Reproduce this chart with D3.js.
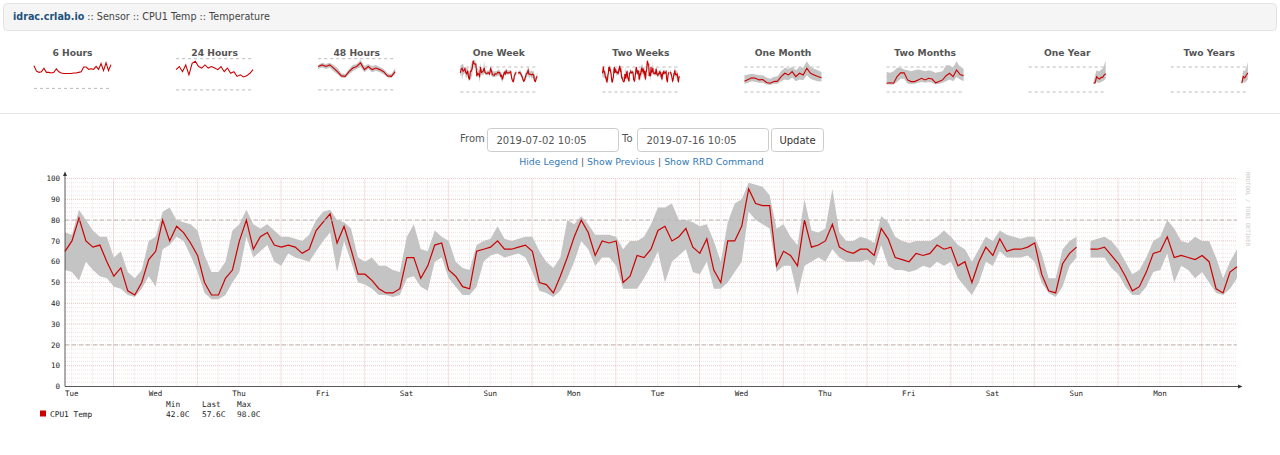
<!DOCTYPE html>
<html>
<head>
<meta charset="utf-8">
<title>idrac.crlab.io :: Sensor :: CPU1 Temp :: Temperature</title>
<script src="https://cdn.jsdelivr.net/npm/d3@7"></script>
<style>
  body { margin: 0; background: #fff; }
  svg text { font-family: "DejaVu Sans", Verdana, sans-serif; }
  svg text.mono { font-family: "DejaVu Sans Mono", monospace; }
</style>
</head>
<body>
<svg id="page" width="1280" height="455"></svg>
<script>
// breadcrumb + form text
const hostName = 'idrac.crlab.io';
const crumbs = ['Sensor', 'CPU1 Temp', 'Temperature'];
const fromText = '2019-07-02 10:05';
const toText = '2019-07-16 10:05';
const links = ['Hide Legend', 'Show Previous', 'Show RRD Command'];

// main graph: CPU1 Temp, one sample every 2 hours from 2019-07-02 10:05
const tempAvg = [65, 70, 81, 70, 67, 68, 60, 53, 57, 46, 44, 50, 61, 65, 80, 70, 77, 74, 69, 63,
  50, 44, 44, 52, 56, 70, 80, 66, 72, 74, 68, 67, 68, 67, 64, 66, 75, 79, 83, 69,
  77, 66, 54, 54, 51, 47, 45, 45, 47, 62, 62, 52, 58, 68, 69, 56, 53, 48, 47, 65,
  66, 67, 70, 66, 66, 67, 68, 65, 50, 49, 45, 53, 62, 72, 80, 74, 63, 70, 69, 70,
  50, 53, 63, 62, 66, 75, 77, 70, 72, 76, 67, 64, 71, 56, 50, 70, 70, 77, 95, 88,
  87, 87, 58, 65, 63, 58, 80, 67, 68, 70, 78, 67, 65, 64, 66, 66, 63, 76, 71, 62,
  61, 60, 64, 63, 64, 68, 66, 67, 58, 60, 50, 60, 67, 63, 71, 65, 66, 66, 67, 69,
  54, 46, 45, 59, 64, 67, null, 66, 66, 67, 63, 59, 53, 46, 48, 55, 64, 65, 72, 62,
  63, 62, 61, 63, 60, 47, 45, 55, 57.6];
const tempMax = [74, 73, 85, 80, 75, 72, 72, 62, 65, 55, 52, 56, 70, 72, 84, 86, 80, 79, 78, 75,
  63, 55, 55, 60, 75, 78, 85, 78, 76, 78, 75, 72, 72, 71, 70, 73, 80, 84, 85, 80,
  79, 76, 62, 60, 62, 58, 58, 56, 55, 72, 78, 66, 65, 75, 72, 70, 60, 57, 56, 68,
  70, 71, 77, 71, 70, 71, 72, 72, 65, 60, 57, 62, 80, 78, 82, 78, 73, 73, 73, 72,
  66, 70, 70, 72, 78, 86, 86, 88, 80, 80, 79, 77, 78, 70, 60, 79, 88, 90, 98, 97,
  96, 92, 76, 78, 72, 68, 90, 75, 74, 76, 95, 74, 70, 70, 72, 71, 69, 82, 79, 72,
  70, 69, 70, 70, 70, 72, 75, 72, 68, 66, 60, 66, 72, 70, 75, 73, 72, 71, 72, 72,
  64, 52, 52, 66, 70, 72, null, 70, 71, 72, 70, 66, 60, 54, 56, 62, 70, 72, 80, 76,
  70, 69, 72, 70, 70, 62, 52, 60, 66];
const tempMin = [56, 55, 51, 60, 56, 53, 52, 48, 47, 44, 43, 47, 53, 48, 66, 68, 72, 70, 63, 55,
  45, 42, 42, 44, 50, 55, 72, 62, 65, 68, 60, 58, 64, 62, 61, 60, 65, 70, 74, 55,
  70, 60, 50, 49, 47, 44, 44, 43, 44, 52, 53, 48, 46, 60, 62, 52, 48, 44, 44, 48,
  60, 63, 64, 62, 63, 64, 62, 55, 46, 45, 43, 46, 52, 60, 70, 66, 58, 62, 62, 58,
  47, 47, 47, 52, 58, 65, 50, 60, 63, 66, 55, 54, 60, 47, 47, 50, 55, 60, 84, 80,
  78, 76, 55, 58, 58, 44, 58, 60, 62, 60, 66, 62, 60, 60, 60, 61, 58, 68, 58, 56,
  56, 55, 56, 58, 57, 60, 58, 60, 52, 48, 44, 50, 60, 58, 65, 62, 62, 62, 63, 60,
  50, 45, 43, 48, 58, 62, null, 62, 62, 62, 57, 54, 48, 44, 44, 48, 55, 56, 64, 50,
  58, 56, 52, 55, 50, 45, 44, 47, 52];
const legendHeads = ['Min', 'Last', 'Max'];
const legendVals = ['42.0C', '57.6C', '98.0C'];

// thumbnail graphs
const sixHourAvg = [58, 49, 47, 48, 54, 47, 47, 46, 47, 53, 48, 46, 45, 45, 45, 45, 46, 46, 47, 48,
  56, 56, 52, 53, 52, 57, 52, 62, 50, 63, 50, 60];
const dayAvg = [59, 65, 55, 68, 49, 71, 75, 65, 62, 68, 62, 65, 62, 59, 65, 55, 62, 52, 55, 46, 49, 45, 47, 52, 59];
const twoDayAvg = [65, 68, 65, 68, 62, 55, 47, 46, 55, 62, 65, 72, 59, 65, 59, 62, 59, 55, 47, 46, 55];
const twoDayMax = [68, 72, 70, 72, 68, 62, 52, 50, 60, 68, 70, 78, 66, 70, 66, 68, 64, 60, 52, 50, 62];
const twoDayMin = [60, 63, 60, 63, 56, 50, 44, 43, 50, 56, 60, 64, 54, 60, 54, 57, 54, 50, 44, 43, 50];
const monthAvg = [46, 50, 54, 53, 49, 50, 43, 41, 45, 46, 57, 65, 61, 69, 57, 65, 61, 77, 65, 61, 57, 54];
const monthMax = [60, 62, 64, 62, 60, 60, 55, 52, 56, 58, 70, 78, 76, 80, 72, 80, 78, 94, 80, 76, 72, 68];
const monthMin = [40, 42, 46, 44, 42, 42, 38, 37, 40, 40, 46, 50, 48, 55, 46, 50, 48, 60, 52, 48, 46, 45];
const twoMonthAvg = [41, 42, 41, 57, 66, 66, 49, 45, 45, 49, 53, 49, 53, 51, 42, 45, 49, 59, 65, 57, 73, 62, 59];
const twoMonthMax = [68, 66, 70, 78, 78, 74, 72, 70, 72, 74, 72, 70, 72, 70, 66, 68, 70, 84, 84, 78, 94, 80, 76];
const twoMonthMin = [38, 38, 38, 44, 52, 52, 40, 39, 40, 42, 44, 42, 44, 42, 38, 40, 42, 46, 50, 46, 56, 50, 46];
const yearAvg = [41, 42, 57, 53, 51, 55, 55, 61, 64];
const yearMax = [46, 60, 72, 70, 70, 74, 76, 84, 96];
const yearMin = [40, 40, 44, 42, 42, 44, 46, 48, 52];
const twoYearAvg = [41, 57, 54, 60, 66];
const twoYearMax = [48, 72, 70, 78, 92];
const twoYearMin = [40, 44, 42, 46, 50];

const red = '#cc0000', band = '#c4c4c4';
const svg = d3.select('#page');

// ---- header bar
svg.append('rect').attr('x', 3.5).attr('y', 3.5).attr('width', 1273).attr('height', 27)
  .attr('rx', 4).attr('fill', '#f5f5f5').attr('stroke', '#e3e3e3');
const crumb = svg.append('text').attr('x', 13).attr('y', 20).attr('font-size', 9.6).attr('fill', '#444');
crumb.append('tspan').attr('font-weight', 'bold').attr('fill', '#23527c').text(hostName);
crumb.append('tspan').text(' :: ' + crumbs.join(' :: '));

// ---- thumbnails
const thumbs = [
  { title: '6 Hours', avg: sixHourAvg, top: 70 },
  { title: '24 Hours', avg: dayAvg, top: 80 },
  { title: '48 Hours', avg: twoDayAvg, min: twoDayMin, max: twoDayMax, top: 80 },
  { title: 'One Week', avg: tempAvg.slice(84), min: tempMin.slice(84), max: tempMax.slice(84), top: 100 },
  { title: 'Two Weeks', avg: tempAvg, min: tempMin, max: tempMax, top: 100 },
  { title: 'One Month', avg: monthAvg, min: monthMin, max: monthMax, top: 100 },
  { title: 'Two Months', avg: twoMonthAvg, min: twoMonthMin, max: twoMonthMax, top: 100 },
  { title: 'One Year', avg: yearAvg, min: yearMin, max: yearMax, top: 100, slots: 52 },
  { title: 'Two Years', avg: twoYearAvg, min: twoYearMin, max: twoYearMax, top: 100, slots: 52 }
];

thumbs.forEach((t, k) => {
  const cx = 72.5 + k * 142.1;
  const left = cx - 38.5, right = cx + 38.5;
  const n = t.slots || t.avg.length;
  const off = n - t.avg.length;
  const tx = d3.scaleLinear().domain([0, n - 1]).range([left, right]);
  const ty = d3.scaleLinear().domain([0, t.top]).range([100.3, 58.7]);
  const g = svg.append('g');

  g.append('text').attr('x', cx).attr('y', 55.5).attr('text-anchor', 'middle')
    .attr('font-size', 9.2).attr('font-weight', 'bold').attr('fill', '#555').text(t.title);

  [80, 20].filter(v => v <= t.top).forEach(v => {
    g.append('line').attr('x1', left).attr('x2', right).attr('y1', ty(v)).attr('y2', ty(v))
      .attr('stroke', '#aaa').attr('stroke-width', 0.8).attr('stroke-dasharray', '3,3');
  });

  const rows = t.avg.map((d, i) => ({ i: i + off, avg: d, min: t.min ? t.min[i] : d, max: t.max ? t.max[i] : d }));
  if (t.min) {
    g.append('path').datum(rows)
      .attr('d', d3.area().defined(d => d.avg != null).x(d => tx(d.i)).y0(d => ty(d.min)).y1(d => ty(d.max)))
      .attr('fill', band);
  }
  g.append('path').datum(rows)
    .attr('d', d3.line().defined(d => d.avg != null).x(d => tx(d.i)).y(d => ty(d.avg)))
    .attr('fill', 'none').attr('stroke', red).attr('stroke-width', 1.1);
});

svg.append('line').attr('x1', 0).attr('x2', 1280).attr('y1', 113.5).attr('y2', 113.5).attr('stroke', '#e5e5e5');

// ---- date form
const form = svg.append('g').attr('font-size', 10).attr('fill', '#555');
form.append('text').attr('x', 460).attr('y', 142).attr('fill', '#555').text('From');
form.append('text').attr('x', 622).attr('y', 142).attr('fill', '#555').text('To');
[[487.5, fromText], [637.5, toText]].forEach(([bx, label]) => {
  form.append('rect').attr('x', bx).attr('y', 128.5).attr('width', 131).attr('height', 23).attr('rx', 3)
    .attr('fill', '#fff').attr('stroke', '#ccc');
  form.append('text').attr('x', bx + 9).attr('y', 143.5).attr('fill', '#555').text(label);
});
form.append('rect').attr('x', 771.5).attr('y', 128.5).attr('width', 52).attr('height', 23).attr('rx', 3)
  .attr('fill', '#fff').attr('stroke', '#ccc');
form.append('text').attr('x', 797.5).attr('y', 143.5).attr('text-anchor', 'middle').attr('fill', '#333').text('Update');

const linkRow = svg.append('text').attr('x', 641.5).attr('y', 165).attr('text-anchor', 'middle')
  .attr('font-size', 9.4).attr('fill', '#555');
links.forEach((l, i) => {
  if (i > 0) linkRow.append('tspan').text(' | ');
  linkRow.append('tspan').attr('fill', '#337ab7').text(l);
});

// ---- main rrd graph
const start = new Date(2019, 6, 2, 10, 5);
const end = new Date(2019, 6, 16, 10, 5);
const stepMs = 2 * 3600 * 1000;
const rows = tempAvg.map((d, i) => ({ t: new Date(+start + i * stepMs), avg: d, min: tempMin[i], max: tempMax[i] }));

const x = d3.scaleTime().domain([start, end]).range([65, 1237]);
const y = d3.scaleLinear().domain([0, 100]).range([386.5, 178.5]);
const chart = svg.append('g');

const minorC = 'rgba(200,150,150,0.35)', majorC = 'rgba(225,110,110,0.4)';
// minor grid
d3.timeHour.every(6).range(start, end).forEach(d => {
  chart.append('line').attr('x1', x(d)).attr('x2', x(d)).attr('y1', y(0)).attr('y2', y(100))
    .attr('stroke', minorC).attr('stroke-width', 0.7).attr('stroke-dasharray', '1,1');
});
d3.range(0, 101, 2).forEach(v => {
  chart.append('line').attr('x1', 65).attr('x2', 1237).attr('y1', y(v)).attr('y2', y(v))
    .attr('stroke', minorC).attr('stroke-width', 0.7).attr('stroke-dasharray', '1,1');
});
// major grid
d3.timeDay.range(start, end).forEach(d => {
  chart.append('line').attr('x1', x(d)).attr('x2', x(d)).attr('y1', y(0)).attr('y2', y(100))
    .attr('stroke', majorC).attr('stroke-width', 0.7).attr('stroke-dasharray', '1,1');
});
d3.range(0, 101, 10).forEach(v => {
  chart.append('line').attr('x1', 65).attr('x2', 1237).attr('y1', y(v)).attr('y2', y(v))
    .attr('stroke', majorC).attr('stroke-width', 0.7).attr('stroke-dasharray', '1,1');
  chart.append('text').attr('class', 'mono').attr('x', 60).attr('y', y(v) + 2.6)
    .attr('text-anchor', 'end').attr('font-size', 7.5).attr('fill', '#222').text(v);
});

// min/max band and average
chart.append('path').datum(rows)
  .attr('d', d3.area().defined(d => d.avg != null)
    .x(d => x(d.t)).y0(d => y(d.min)).y1(d => y(d.max)))
  .attr('fill', band);
chart.append('path').datum(rows)
  .attr('d', d3.line().defined(d => d.avg != null)
    .x(d => x(d.t)).y(d => y(d.avg)))
  .attr('fill', 'none').attr('stroke', red).attr('stroke-width', 1.2);

// threshold rules
[80, 20].forEach(v => {
  chart.append('line').attr('x1', 65).attr('x2', 1237).attr('y1', y(v)).attr('y2', y(v))
    .attr('stroke', '#b8b8b8').attr('stroke-width', 1).attr('stroke-dasharray', '4,3');
});

// axes
chart.append('line').attr('x1', 65).attr('x2', 65).attr('y1', y(0)).attr('y2', 174).attr('stroke', '#333').attr('stroke-width', 0.8);
chart.append('line').attr('x1', 65).attr('x2', 1240).attr('y1', y(0)).attr('y2', y(0)).attr('stroke', '#333').attr('stroke-width', 0.8);
chart.append('path').attr('d', 'M63,176L65,171.5L67,176Z').attr('fill', '#333');
chart.append('path').attr('d', 'M1238,384.5L1242.5,386.5L1238,388.5Z').attr('fill', '#333');

// day labels centred at noon
d3.timeDay.range(d3.timeDay.floor(start), end)
  .map(d => d3.timeHour.offset(d, 12))
  .filter(d => d >= start && d <= end)
  .forEach(d => {
    chart.append('text').attr('class', 'mono').attr('x', x(d)).attr('y', 396)
      .attr('text-anchor', 'middle').attr('font-size', 7.5).attr('fill', '#222').text(d3.timeFormat('%a')(d));
  });

// watermark
chart.append('text').attr('class', 'mono').attr('transform', 'translate(1246,172) rotate(90)')
  .attr('font-size', 5.6).attr('fill', '#c8c8c8').text('RRDTOOL / TOBI OETIKER');

// legend
const legend = svg.append('g').attr('class', 'legend');
legend.append('rect').attr('x', 40).attr('y', 410.5).attr('width', 6).attr('height', 6).attr('fill', red);
legend.append('text').attr('class', 'mono').attr('x', 50).attr('y', 416.5).attr('font-size', 7.8).attr('fill', '#222').text('CPU1 Temp');
[166, 202, 237].forEach((lx, i) => {
  legend.append('text').attr('class', 'mono').attr('x', lx).attr('y', 407).attr('font-size', 7.8).attr('fill', '#222').text(legendHeads[i]);
  legend.append('text').attr('class', 'mono').attr('x', lx).attr('y', 416.5).attr('font-size', 7.8).attr('fill', '#222').text(legendVals[i]);
});
</script>
</body>
</html>
